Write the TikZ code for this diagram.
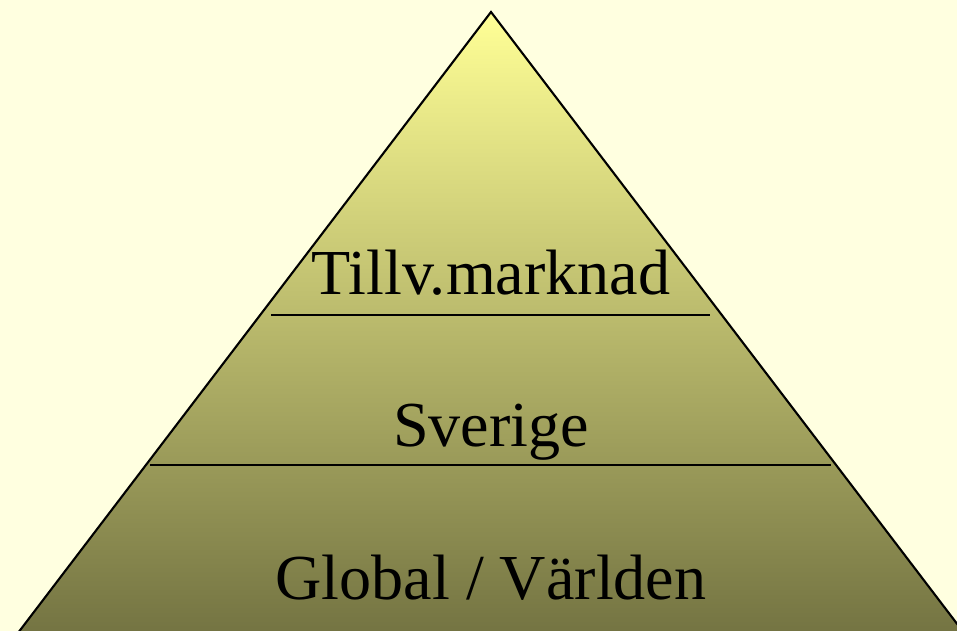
\documentclass[tikz,border=0pt]{standalone}
\usepackage{fontspec}
\setmainfont{Liberation Serif}
\usepackage{xcolor}
\usepackage{tikz}
\definecolor{pagebg}{RGB}{255,255,224}
\definecolor{pyrtop}{RGB}{255,255,150}
\definecolor{pyrmid}{RGB}{200,200,125}
\definecolor{pyrbot}{RGB}{112,112,64}
\tikzset{level/.style={anchor=base,font=\fontsize{36.5}{42}\selectfont,inner sep=0pt}}

\begin{document}
\begin{tikzpicture}[x=0.02cm,y=-0.02cm]
  \fill[pagebg] (0,0) rectangle (957,631);
  \useasboundingbox (0,0) rectangle (957,631);
  \begin{scope}
    \clip (0,0) rectangle (957,631);
    \shade[top color=pyrtop,middle color=pyrmid,bottom color=pyrbot,draw=black,line width=1.2pt,line join=miter]
      (491,12) -- (977,650) -- (5,650) -- cycle;
  \end{scope}
  \draw[line width=0.9pt] (271,315) -- (710,315);
  \draw[line width=0.9pt] (150,465) -- (831,465);
  \node[level] (top) at (491,295) {Tillv.marknad};
  \node[level] (mid) at (491,447) {Sverige};
  \node[level] (bot) at (491,599) {Global / Världen};
\end{tikzpicture}
\end{document}
